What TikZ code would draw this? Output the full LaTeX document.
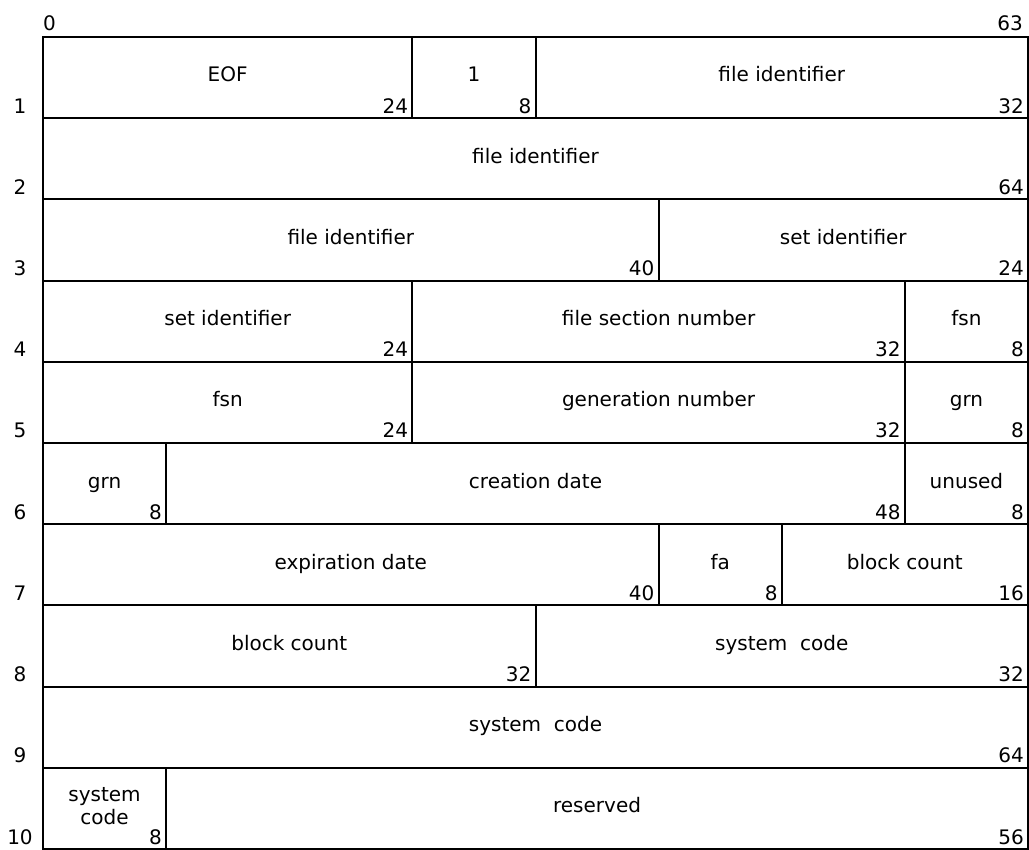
\documentclass[tikz,border=0pt]{standalone}
\usepackage{fontspec}
\setmainfont{DejaVu Sans}
\usetikzlibrary{calc}
\tikzset{
  cellbox/.style={draw=black, line width=2pt, rectangle, inner sep=0pt, minimum height=81.2pt},
  lab/.style={inner sep=0pt, font=\fontsize{20}{23}\selectfont},
  num/.style={inner sep=0pt, font=\fontsize{20}{23}\selectfont},
}
\newcommand\fcell[6]{%
  \pgfmathsetmacro\cx{42+15.390625*#3}%
  \pgfmathsetmacro\cw{15.390625*(#4-#3)}%
  \pgfmathsetmacro\cy{36+81.2*(#2-1)}%
  \node[cellbox, minimum width=\cw pt, anchor=north west] (#1) at (\cx,\cy) {};
  \node[lab, anchor=base] (#1-l) at ($(#1.north)+(0,46)$) {#5};
  \node[num, anchor=base east] (#1-n) at ($(#1.south east)+(-5,-6)$) {#6};
}
\begin{document}
\begin{tikzpicture}[x=1pt,y=-1pt]
\useasboundingbox (0,0) rectangle (1029,850);
% rows
\fcell{eof}{1}{0}{24}{EOF}{24}
\fcell{one}{1}{24}{32}{1}{8}
\fcell{fidA}{1}{32}{64}{file identifier}{32}
\fcell{fidB}{2}{0}{64}{file identifier}{64}
\fcell{fidC}{3}{0}{40}{file identifier}{40}
\fcell{sidA}{3}{40}{64}{set identifier}{24}
\fcell{sidB}{4}{0}{24}{set identifier}{24}
\fcell{fsnum}{4}{24}{56}{file section number}{32}
\fcell{fsnA}{4}{56}{64}{fsn}{8}
\fcell{fsnB}{5}{0}{24}{fsn}{24}
\fcell{gen}{5}{24}{56}{generation number}{32}
\fcell{grnA}{5}{56}{64}{grn}{8}
\fcell{grnB}{6}{0}{8}{grn}{8}
\fcell{cdate}{6}{8}{56}{creation date}{48}
\fcell{unused}{6}{56}{64}{unused}{8}
\fcell{edate}{7}{0}{40}{expiration date}{40}
\fcell{fa}{7}{40}{48}{fa}{8}
\fcell{bcA}{7}{48}{64}{block count}{16}
\fcell{bcB}{8}{0}{32}{block count}{32}
\fcell{scA}{8}{32}{64}{system\ \ code}{32}
\fcell{scB}{9}{0}{64}{system\ \ code}{64}
\fcell{scC}{10}{0}{8}{}{8}
\node[lab, anchor=base] (scC-l1) at ($(scC.north)+(0,35)$) {system};
\node[lab, anchor=base] (scC-l2) at ($(scC.north)+(0,58)$) {code};
\fcell{res}{10}{8}{64}{reserved}{56}
% bit numbers
\node[num, anchor=base west] (b0) at (43,31) {0};
\node[num, anchor=base east] (b63) at (1023,31) {63};
% row numbers
\foreach \r in {1,...,10}{
  \node[num, anchor=base] (row\r) at (20,{36+81.2*\r-4}) {\r};
}
\end{tikzpicture}
\end{document}
